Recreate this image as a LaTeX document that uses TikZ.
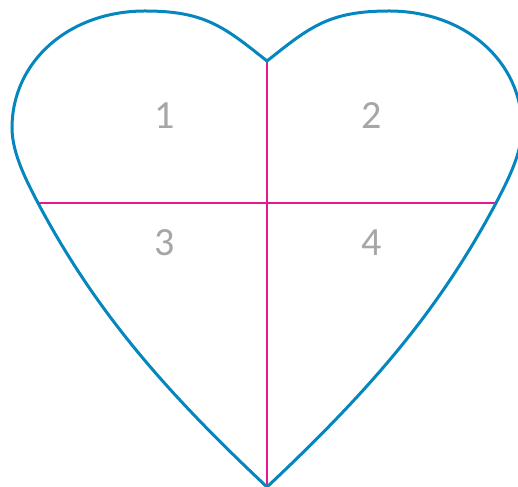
\documentclass[tikz,border=0pt]{standalone}
\usepackage{fontspec}
\setmainfont{Carlito}
\definecolor{heartblue}{RGB}{6,134,190}
\definecolor{divmag}{RGB}{232,24,140}
\definecolor{numgray}{RGB}{166,166,166}
\begin{document}
\begin{tikzpicture}[x=1pt,y=1pt,
  outline/.style={draw=heartblue,line width=3pt,line join=miter},
  divider/.style={draw=divmag,line width=1.6pt},
  num/.style={text=numgray,font=\fontsize{40}{48}\selectfont,inner sep=0pt}]
\useasboundingbox (0,0) rectangle (518,486);
\coordinate (tip) at (267,-1);
\coordinate (cusp) at (267,425);
\coordinate (lside) at (38,283);
\coordinate (rside) at (496,283);
\draw[divider] (cusp) -- (tip);
\draw[divider] (lside) -- (rside);
\draw[outline] (tip)
  .. controls (166.8,93.4) and (96.6,172.6) .. (lside)
  .. controls (26.5,305) and (12,333) .. (12,358)
  .. controls (12,424.7) and (69.2,475) .. (145,475)
  .. controls (205,475) and (224.1,459.1) .. (cusp)
  .. controls (309.9,459.1) and (329,475) .. (389,475)
  .. controls (464.8,475) and (522,424.7) .. (522,358)
  .. controls (522,333) and (507.5,305) .. (rside)
  .. controls (437.4,172.6) and (367.2,93.4) .. (tip)
  -- cycle;
\node[num] (n1) at (165,370) {1};
\node[num] (n2) at (372,370) {2};
\node[num] (n3) at (165,243) {3};
\node[num] (n4) at (372,243) {4};
\end{tikzpicture}
\end{document}
